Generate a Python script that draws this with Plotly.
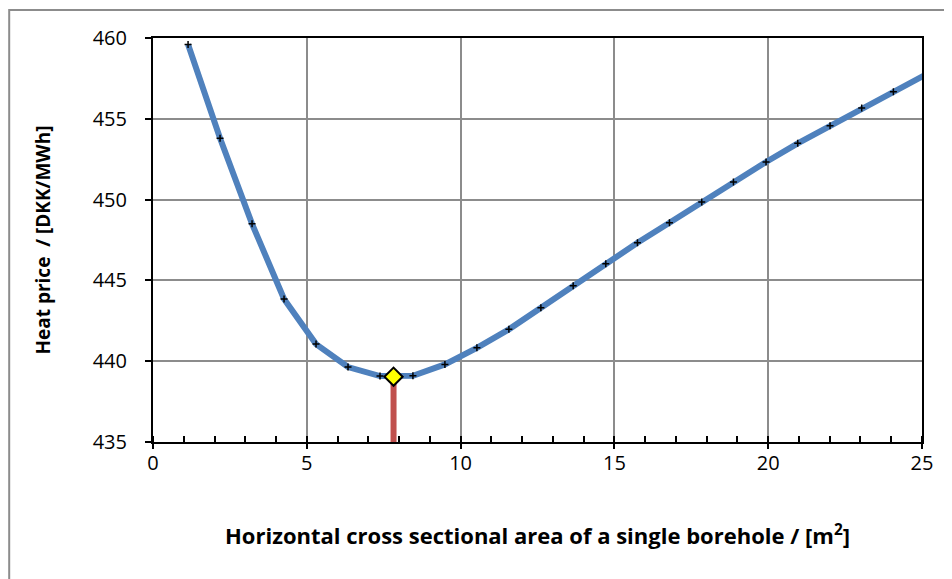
import plotly.graph_objects as go

# borehole area [m2] and heat price [DKK/MWh]
area = [1.14, 2.18, 3.22, 4.26, 5.30, 6.34, 7.38, 8.45, 9.49, 10.53, 11.57, 12.61,
        13.66, 14.72, 15.75, 16.79, 17.84, 18.87, 19.93, 20.96, 22.01, 23.04, 24.07, 25.11]
price = [459.6, 453.8, 448.5, 443.85, 441.06, 439.64, 439.08, 439.1, 439.8, 440.83,
         441.97, 443.31, 444.67, 446.03, 447.33, 448.57, 449.85, 451.09, 452.33,
         453.48, 454.57, 455.67, 456.68, 457.72]

opt_area = [7.82]
opt_price = [439.04]
y_floor = 435

fig = go.Figure()

# red drop line from the axis to the optimum
fig.add_trace(go.Scatter(
    x=[opt_area[0], opt_area[0]], y=[y_floor, opt_price[0]],
    mode="lines", line=dict(color="#C0504D", width=6),
    hoverinfo="skip", showlegend=False, cliponaxis=False,
))

fig.add_trace(go.Scatter(
    x=area, y=price, mode="lines+markers",
    line=dict(color="#4F81BD", width=6),
    marker=dict(symbol="cross-thin", size=5, color="black",
                line=dict(color="black", width=1.5)),
    showlegend=False,
))

fig.add_trace(go.Scatter(
    x=opt_area, y=opt_price, mode="markers",
    marker=dict(symbol="diamond", size=14, color="#FFFF00",
                line=dict(color="black", width=2)),
    showlegend=False, cliponaxis=False,
))

font = "'Open Sans', Lato, sans-serif"

# the page body adds 8px on each side, so the figure is 8px smaller
fig.update_layout(
    width=944, height=571,
    margin=dict(l=145, r=30, t=30, b=137),
    plot_bgcolor="white", paper_bgcolor="white",
    font=dict(family=font, size=20, color="black"),
    xaxis=dict(
        range=[0, 25], dtick=5, tick0=0,
        showgrid=True, gridcolor="#8C8C8C", gridwidth=2,
        showline=True, linecolor="black", linewidth=2, mirror=True,
        ticks="outside", ticklen=5, tickwidth=2, tickcolor="black",
        ticklabelstandoff=-3,
        minor=dict(dtick=1, ticks="inside", ticklen=6, tickwidth=1.5,
                   tickcolor="black", showgrid=False),
        zeroline=False,
        title=dict(
            text="<b>Horizontal cross sectional area of a single borehole / [m<sup>2</sup>]</b>",
            font=dict(size=22), standoff=54,
        ),
    ),
    yaxis=dict(
        range=[435, 460], dtick=5,
        showgrid=True, gridcolor="#8C8C8C", gridwidth=2,
        showline=True, linecolor="black", linewidth=2, mirror=True,
        ticks="outside", ticklen=6, tickwidth=2, tickcolor="black",
        ticklabelstandoff=14,
        zeroline=False,
        title=dict(text="<b>Heat price  / [DKK/MWh]</b>", font=dict(size=19), standoff=37),
    ),
    shapes=[dict(
        type="rect", xref="paper", yref="paper",
        x0=-0.187, x1=1.2, y0=-0.5, y1=1.0693,
        line=dict(color="#8C8C8C", width=2), layer="below",
    )],
)

fig.write_html("out.html")
